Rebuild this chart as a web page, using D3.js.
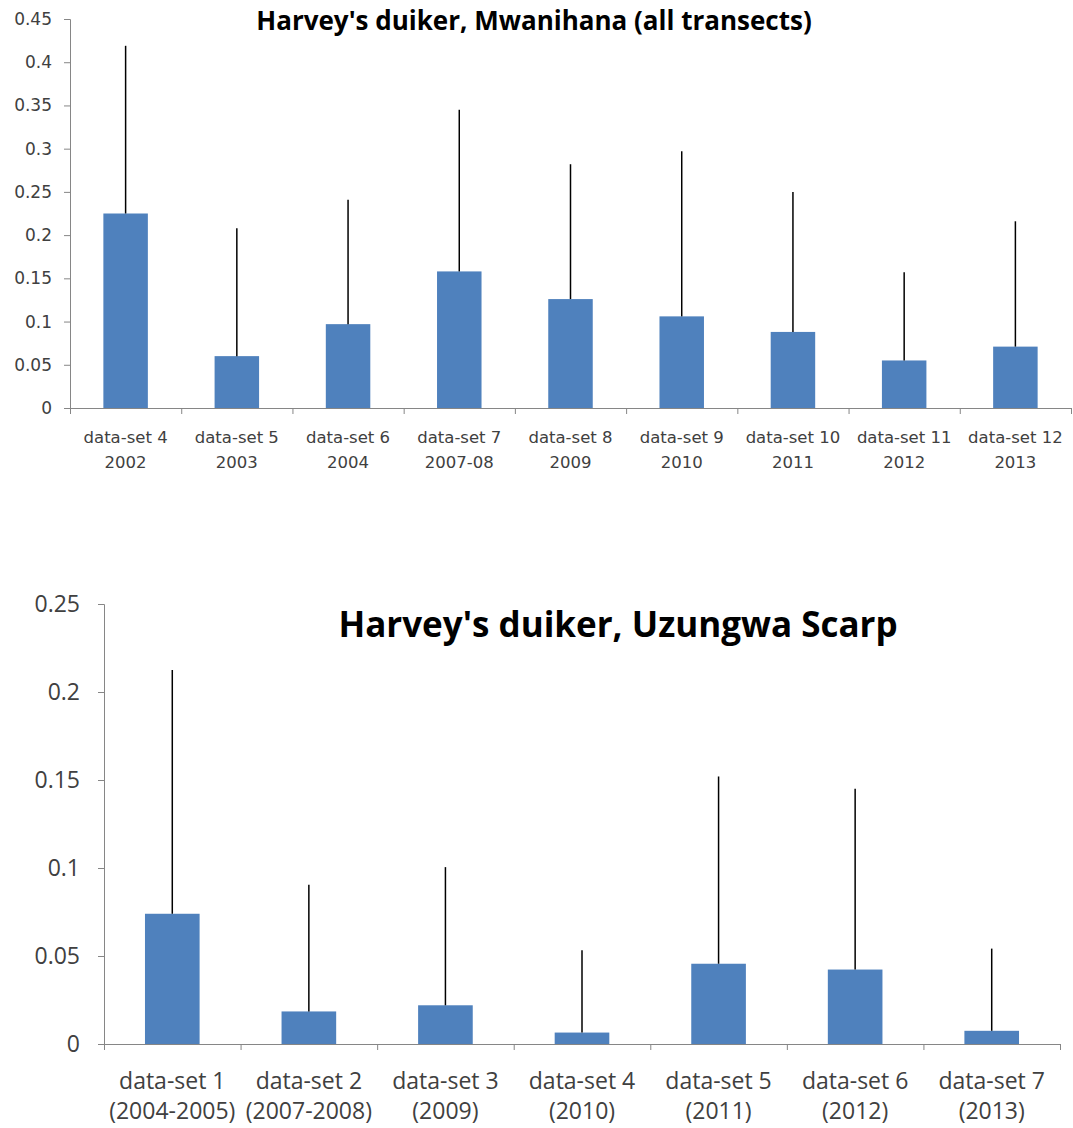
<!DOCTYPE html>
<html>
<head>
<meta charset="utf-8">
<script src="https://d3js.org/d3.v7.min.js"></script>
<style>
  body { margin: 0; background: #fff; }
</style>
</head>
<body>
<svg id="vis"></svg>

<script>
    // Top chart: Mwanihana (all transects)
    var topSets  = ["data-set 4", "data-set 5", "data-set 6", "data-set 7", "data-set 8", "data-set 9", "data-set 10", "data-set 11", "data-set 12"]
    var topYears = ["2002", "2003", "2004", "2007-08", "2009", "2010", "2011", "2012", "2013"]
    var topMeans = [0.225, 0.060, 0.097, 0.158, 0.126, 0.106, 0.088, 0.055, 0.071]
    var topErrs  = [0.194, 0.148, 0.144, 0.187, 0.156, 0.191, 0.162, 0.102, 0.145]
    var topTicks = [0, 0.05, 0.1, 0.15, 0.2, 0.25, 0.3, 0.35, 0.4, 0.45]

    // Bottom chart: Uzungwa Scarp
    var botSets  = ["data-set 1", "data-set 2", "data-set 3", "data-set 4", "data-set 5", "data-set 6", "data-set 7"]
    var botYears = ["(2004-2005)", "(2007-2008)", "(2009)", "(2010)", "(2011)", "(2012)", "(2013)"]
    var botMeans = [0.074, 0.0185, 0.022, 0.0065, 0.0456, 0.0423, 0.0075]
    var botErrs  = [0.1385, 0.072, 0.0785, 0.0467, 0.1064, 0.1027, 0.0467]
    var botTicks = [0, 0.05, 0.1, 0.15, 0.2, 0.25]

    var svg = d3.select("#vis")
        .attr("width", 1073)
        .attr("height", 1128)

    svg.append("rect").attr("width", 1073).attr("height", 1128).attr("fill", "#fff")

    function drawChart(c) {
        var g = svg.append("g")

        var x = d3.scaleBand()
            .domain(c.sets)
            .range([c.left, c.right])
            .paddingInner(0.6)
            .paddingOuter(0.3)

        // boundaries of the categories, for the tick marks
        var xb = d3.scaleLinear().domain([0, c.sets.length]).range([c.left, c.right])

        var y = d3.scaleLinear()
            .domain([0, c.max])
            .range([c.bottom, c.top])

        // y axis
        var yAxis = g.append("g")
            .attr("transform", "translate(" + c.left + ",0)")
            .call(d3.axisLeft(y).tickValues(c.ticks).tickSize(6).tickPadding(c.yPad)
                .tickFormat(function(d) { return d3.format("~g")(d) }))
        yAxis.select(".domain").attr("stroke", "#868686")
        yAxis.selectAll(".tick line").attr("stroke", "#868686")
        yAxis.selectAll(".tick text")
            .attr("fill", "#404040")
            .style("font-family", c.font)
            .style("font-size", c.yFont + "px")

        // bars
        g.selectAll(".bar")
            .data(c.means)
            .enter().append("rect")
            .attr("x", function(d, i) { return x(c.sets[i]) })
            .attr("y", function(d) { return y(d) })
            .attr("width", x.bandwidth())
            .attr("height", function(d) { return y(0) - y(d) })
            .attr("fill", "#4f81bd")

        // error bars (plus direction only)
        g.selectAll(".err")
            .data(c.means)
            .enter().append("line")
            .attr("x1", function(d, i) { return x(c.sets[i]) + x.bandwidth() / 2 })
            .attr("x2", function(d, i) { return x(c.sets[i]) + x.bandwidth() / 2 })
            .attr("y1", function(d) { return y(d) })
            .attr("y2", function(d, i) { return y(d + c.errs[i]) })
            .attr("stroke", "#000")
            .attr("stroke-width", 1.5)

        // x axis
        var xAxis = g.append("g")
            .attr("transform", "translate(0," + c.bottom + ")")
            .call(d3.axisBottom(xb).tickValues(d3.range(c.sets.length + 1)).tickSize(6).tickSizeOuter(0).tickFormat(""))
        xAxis.select(".domain").attr("stroke", "#868686")
        xAxis.selectAll(".tick line").attr("stroke", "#868686")

        // category labels, two lines
        var lab = g.selectAll(".lab")
            .data(c.sets)
            .enter().append("text")
            .attr("text-anchor", "middle")
            .attr("fill", "#404040")
            .style("font-family", c.font)
            .style("font-size", c.xFont + "px")
        lab.append("tspan")
            .attr("x", function(d) { return x(d) + x.bandwidth() / 2 })
            .attr("y", c.lab1)
            .text(function(d) { return d })
        lab.append("tspan")
            .attr("x", function(d) { return x(d) + x.bandwidth() / 2 })
            .attr("y", c.lab2)
            .text(function(d, i) { return c.years[i] })

        // title
        g.append("text")
            .attr("x", c.titleX)
            .attr("y", c.titleY)
            .attr("text-anchor", "middle")
            .attr("fill", "#000")
            .style("font-family", c.titleFontFamily)
            .style("font-weight", "bold")
            .style("font-size", c.titleFont + "px")
            .text(c.title)
    }

    drawChart({
        sets: topSets, years: topYears, means: topMeans, errs: topErrs, ticks: topTicks, max: 0.45,
        left: 70, right: 1071, top: 19, bottom: 408,
        font: "'DejaVu Sans', Verdana, sans-serif", yFont: 17, xFont: 16.5, yPad: 12,
        lab1: 443, lab2: 468,
        title: "Harvey's duiker, Mwanihana (all transects)",
        titleFontFamily: "'Open Sans', sans-serif", titleFont: 26, titleX: 534, titleY: 30
    })

    drawChart({
        sets: botSets, years: botYears, means: botMeans, errs: botErrs, ticks: botTicks, max: 0.25,
        left: 104, right: 1060, top: 604, bottom: 1044,
        font: "'Open Sans', sans-serif", yFont: 23, xFont: 23, yPad: 18,
        lab1: 1089, lab2: 1119,
        title: "Harvey's duiker, Uzungwa Scarp",
        titleFontFamily: "'Open Sans', sans-serif", titleFont: 35, titleX: 618, titleY: 637
    })
</script>
</body>
</html>
